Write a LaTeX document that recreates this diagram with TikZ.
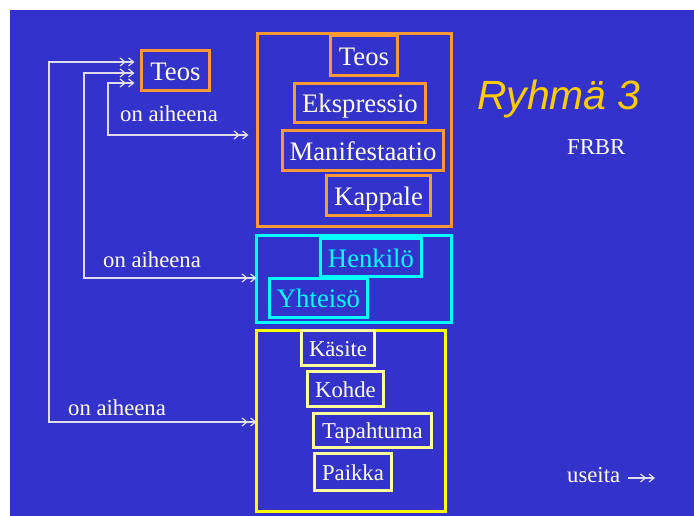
\documentclass[tikz,border=0pt]{standalone}
\usepackage{fontspec}
\setmainfont{Liberation Serif}
\newfontfamily\titlefont{Liberation Sans}
\usetikzlibrary{arrows.meta}
\definecolor{bg}{HTML}{3333CC}
\definecolor{org}{HTML}{FF9933}
\definecolor{cyn}{HTML}{00FFFF}
\definecolor{yel}{HTML}{FFFF00}
\definecolor{pyel}{HTML}{FFFF99}
\definecolor{cream}{HTML}{FFFFE6}
\definecolor{ttl}{HTML}{FFCC00}
\definecolor{lin}{HTML}{DDDDEE}
\tikzset{
  bigfont/.style={font=\fontsize{26.7}{30}\selectfont},
  smallfont/.style={font=\fontsize{22.7}{26}\selectfont},
  bx/.style={draw, line width=3pt, inner sep=0pt, outer sep=0pt},
  obox/.style={bx, draw=org, text=cream, bigfont, text height=25pt, text depth=5.5pt},
  cbox/.style={bx, draw=cyn, text=cyn, bigfont, text height=25pt, text depth=5.5pt},
  ybox/.style={bx, draw=pyel, text=cream, smallfont, text height=21pt, text depth=5pt},
  frame/.style={bx},
  lbl/.style={anchor=base west, inner sep=0pt, text=cream, smallfont},
  dtip/.tip={Straight Barb[length=5pt,width=8pt,sep=2pt] Straight Barb[length=5pt,width=8pt]},
  conn/.style={draw=lin, line width=1.2pt, dtip-dtip}
}
\begin{document}
\begin{tikzpicture}[x=1pt,y=-1pt]
\useasboundingbox (0,0) rectangle (694,516);
\fill[white] (0,0) rectangle (694,516);
\fill[bg] (10,10) rectangle (694,516);

% left Teos
\node[obox, minimum width=68, minimum height=40] (teosL) at (175.5,70.5) {Teos};

% orange group
\node[frame, draw=org, minimum width=194, minimum height=193] (ograp) at (354.5,130) {};
\node[obox, minimum width=67, minimum height=40] (teos) at (364,55.5) {Teos};
\node[obox, minimum width=131, minimum height=39] (eksp) at (360,103) {Ekspressio};
\node[obox, minimum width=161, minimum height=40] (mani) at (363,150.5) {Manifestaatio};
\node[obox, minimum width=104, minimum height=40] (kapp) at (378.5,195.5) {Kappale};

% cyan group
\node[frame, draw=cyn, minimum width=195, minimum height=87] (cgrp) at (354,279) {};
\node[cbox, minimum width=101, minimum height=38] (henk) at (371,257.5) {Henkilö};
\node[cbox, minimum width=98, minimum height=39] (yhte) at (318.5,298) {Yhteisö};

% yellow group
\node[frame, draw=yel, minimum width=189, minimum height=181] (ygrp) at (351,421) {};
\node[ybox, minimum width=73, minimum height=35] (kasi) at (338,348) {Käsite};
\node[ybox, minimum width=76, minimum height=35] (kohd) at (345.5,389) {Kohde};
\node[ybox, minimum width=118, minimum height=34] (tapa) at (372.5,430.5) {Tapahtuma};
\node[ybox, minimum width=77, minimum height=37] (paik) at (353,472) {Paikka};

% title
\node[anchor=base west, inner sep=0pt, text=ttl, font=\titlefont\itshape\fontsize{40.8}{46}\selectfont] (title) at (477,110) {Ryhmä 3};
\node[lbl] (frbr) at (567,155) {FRBR};

% labels
\node[lbl] (l1) at (120,122) {on aiheena};
\node[lbl] (l2) at (103,267) {on aiheena};
\node[lbl] (l3) at (68,415) {on aiheena};

% connectors
\coordinate (a1) at ([xshift=-7pt,yshift=8.5pt]teosL.west);
\coordinate (a2) at ([xshift=-7pt,yshift=-2.5pt]teosL.west);
\coordinate (a3) at ([xshift=-7pt,yshift=-12.5pt]teosL.west);
\coordinate (c1) at (49,422);
\coordinate (c2) at (84,278);
\coordinate (c3) at (108,135);
\draw[conn] (a1) -| (c1) -- (c1 -| ygrp.west);
\draw[conn] (a2) -| (c2) -- (c2 -| cgrp.west);
\draw[conn] (a3) -| (c3) -- ([xshift=-9pt]c3 -| ograp.west);

% legend
\node[lbl] (useita) at (567,482) {useita};
\coordinate (u1) at (628,478);
\coordinate (u2) at (655,478);
\draw[draw=lin, line width=1.2pt, -dtip] (u1) -- (u2);
\end{tikzpicture}
\end{document}
